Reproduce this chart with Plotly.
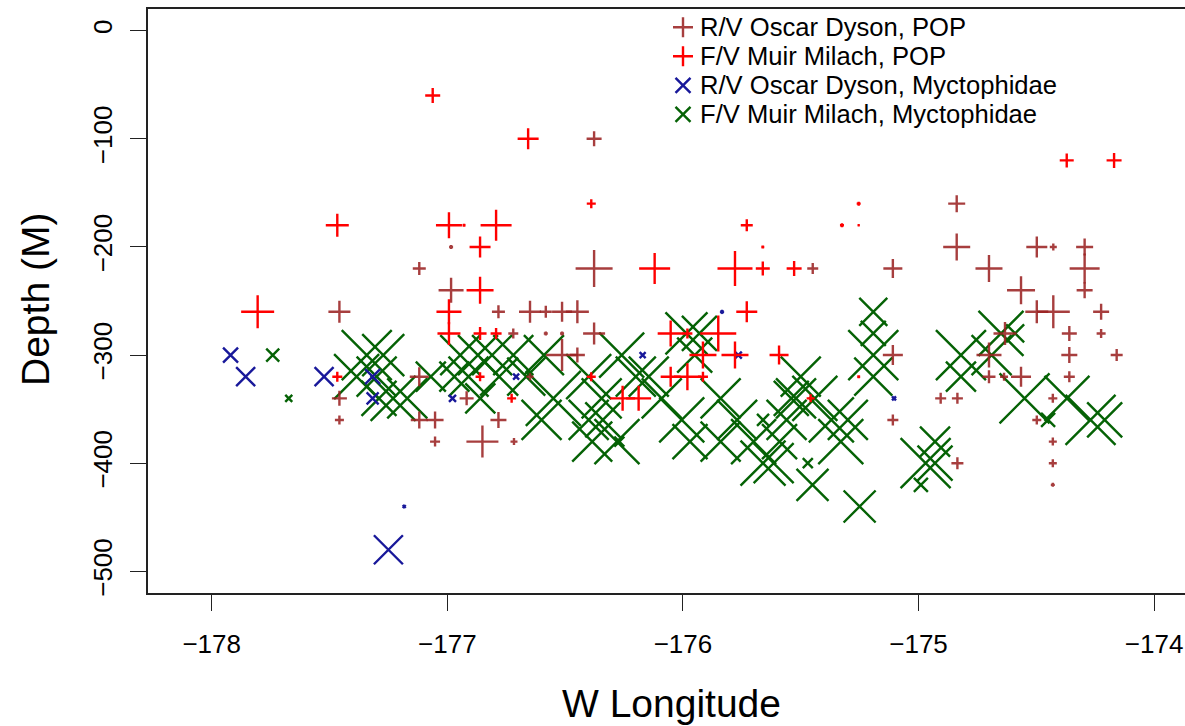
import plotly.graph_objects as go

# ---------------- data ----------------
x_ticks = [-178, -177, -176, -175, -174]
y_ticks = [0, -100, -200, -300, -400, -500]

legend_labels = ["R/V Oscar Dyson, POP", "F/V Muir Milach, POP",
                 "R/V Oscar Dyson, Myctophidae", "F/V Muir Milach, Myctophidae"]

# R/V Oscar Dyson, POP
pop_dyson_lon = [-177.119, -176.984, -176.984, -176.377, -176.377, -174.838, -174.838, -174.498,
                 -174.428, -174.295, -175.449, -175.109, -174.701, -174.295, -174.565, -174.295,
                 -174.498, -174.428, -174.225, -174.360, -174.225, -174.633, -174.701, -174.360,
                 -174.159, -175.109, -174.701, -174.637, -174.565, -174.360, -174.906, -174.835,
                 -174.430, -175.109, -174.498, -174.430, -174.835, -174.430, -174.430, -177.458,
                 -177.458, -177.458, -177.119, -177.119, -177.052, -177.052, -176.918, -176.851,
                 -176.783, -176.649, -176.582, -176.513, -176.448, -176.720, -176.582, -176.513,
                 -176.377, -176.513, -176.448, -176.649, -176.783, -176.717]
pop_dyson_depth = [-220, -200, -240, -100, -220, -160, -200, -200,
                   -200, -200, -220, -220, -220, -220, -240, -240,
                   -260, -260, -260, -280, -280, -280, -300, -300,
                   -300, -300, -320, -320, -320, -320, -340, -340,
                   -340, -360, -360, -380, -400, -400, -420, -260,
                   -340, -360, -320, -360, -360, -380, -340, -380,
                   -260, -260, -260, -260, -260, -280, -280, -280,
                   -280, -300, -300, -320, -360, -380]
pop_dyson_cpue = [13, 4, 25, 15, 37, 17, 27, 21,
                  7, 17, 11, 19, 27, 30, 28, 16,
                  23, 33, 16, 15, 9, 23, 25, 16,
                  12, 20, 13, 8, 20, 11, 11, 11,
                  9, 11, 9, 8, 12, 8, 4, 22,
                  15, 9, 19, 17, 17, 10, 14, 32,
                  13, 22, 12, 20, 23, 10, 4, 4,
                  22, 32, 15, 7, 16, 7]

# F/V Muir Milach, POP
pop_milach_lon = [-177.062, -177.467, -176.993, -176.929, -176.793, -176.861, -176.861, -176.657,
                  -176.389, -176.120, -175.779, -175.661, -175.528, -175.729, -175.661, -174.371,
                  -174.170, -175.254, -175.325, -175.254, -175.592, -175.254, -175.458, -177.805,
                  -176.993, -176.993, -176.861, -176.793, -177.467, -176.861, -176.389, -176.727,
                  -176.256, -176.188, -176.052, -175.981, -175.850, -175.729, -175.915, -175.779,
                  -176.052, -175.981, -175.915]
pop_milach_depth = [-60, -180, -180, -180, -180, -200, -240, -100,
                    -160, -220, -220, -220, -220, -180, -200, -120,
                    -120, -160, -180, -180, -300, -320, -340, -260,
                    -260, -280, -280, -280, -320, -320, -320, -340,
                    -340, -340, -280, -280, -280, -260, -300, -300,
                    -320, -320, -320]
pop_milach_cpue = [15, 23, 26, 3, 31, 21, 27, 21,
                   9, 31, 35, 14, 15, 12, 3, 14,
                   15, 4, 4, 2, 19, 3, 8, 33,
                   25, 23, 13, 11, 10, 9, 9, 9,
                   25, 25, 26, 10, 36, 21, 27, 27,
                   20, 27, 10]

# R/V Oscar Dyson, Myctophidae
myct_dyson_lon = [-177.920, -177.856, -177.523, -177.317, -177.317, -177.250, -177.183,
                  -176.978, -176.708, -176.171, -175.834, -175.765, -175.104]
myct_dyson_depth = [-300, -320, -320, -320, -340, -480, -440,
                    -340, -320, -300, -260, -300, -340]
myct_dyson_cpue = [15, 19, 19, 15, 12, 29, 3,
                   7, 6, 6, 3, 7, 4]

# F/V Muir Milach, Myctophidae
myct_milach_lon = [-177.741, -177.673, -177.342, -177.272, -177.300, -177.385, -177.230, -177.170,
                   -177.290, -177.070, -176.945, -176.870, -176.910, -176.810, -176.780, -176.720,
                   -176.665, -176.970, -176.590, -176.550, -176.400, -176.345, -176.400, -176.340,
                   -176.385, -176.280, -176.270, -176.260, -176.200, -176.145, -176.090, -176.005,
                   -175.985, -175.930, -175.950, -175.840, -175.770, -175.840, -175.700, -175.615,
                   -175.560, -175.520, -175.660, -175.660, -175.500, -175.440, -175.540, -175.370,
                   -175.300, -175.330, -175.590, -175.450, -175.250, -175.470, -175.192, -175.192,
                   -175.192, -175.192, -174.970, -174.930, -174.930, -174.990, -174.820, -174.820,
                   -174.690, -174.650, -174.590, -174.550, -174.450, -174.370, -174.270, -174.210,
                   -175.970, -176.600, -176.860]
myct_milach_depth = [-300, -340, -300, -300, -320, -320, -340, -340,
                     -340, -320, -300, -300, -320, -300, -320, -300,
                     -320, -320, -300, -340, -320, -340, -360, -360,
                     -380, -380, -380, -300, -320, -320, -340, -360,
                     -280, -280, -300, -340, -360, -380, -380, -400,
                     -360, -340, -400, -360, -320, -340, -340, -360,
                     -360, -380, -380, -420, -440, -400, -260, -280,
                     -300, -320, -400, -380, -400, -420, -300, -320,
                     -300, -280, -280, -340, -360, -340, -360, -360,
                     -380, -360, -340]
myct_milach_cpue = [13, 7, 50, 42, 40, 45, 45, 40,
                    35, 30, 40, 40, 40, 40, 38, 40,
                    38, 30, 40, 55, 45, 40, 40, 35,
                    40, 45, 10, 45, 40, 40, 40, 45,
                    42, 35, 35, 40, 40, 40, 45, 40,
                    40, 40, 45, 12, 40, 45, 35, 45,
                    40, 45, 35, 32, 32, 10, 28, 25,
                    50, 38, 50, 30, 35, 14, 50, 30,
                    40, 45, 18, 50, 14, 45, 50, 35,
                    35, 40, 30]

# ---------------- styling ----------------
FONT = "Liberation Sans, Arial, Helvetica, sans-serif"
C_DYSON_POP = "rgba(155,35,35,0.88)"
C_MILACH_POP = "#ff0000"
C_DYSON_MYCT = "#18189a"
C_MILACH_MYCT = "#056205"
LW = 2.4
CROSS_K = 1 / 1.4   # cross-thin arms span 1.4 * size
X_K = 1.0

fig = go.Figure()


def add_series(lon, dep, cpue, symbol, color, k):
    fig.add_trace(go.Scatter(
        x=lon, y=dep, mode="markers", showlegend=False, hoverinfo="skip",
        marker=dict(symbol=symbol, size=[c * k for c in cpue], color=color, opacity=1,
                    line=dict(color=color, width=LW))))


add_series(myct_milach_lon, myct_milach_depth, myct_milach_cpue, "x-thin", C_MILACH_MYCT, X_K)
add_series(myct_dyson_lon, myct_dyson_depth, myct_dyson_cpue, "x-thin", C_DYSON_MYCT, X_K)
add_series(pop_dyson_lon, pop_dyson_depth, pop_dyson_cpue, "cross-thin", C_DYSON_POP, CROSS_K)
add_series(pop_milach_lon, pop_milach_depth, pop_milach_cpue, "cross-thin", C_MILACH_POP, CROSS_K)

# ---------------- legend (drawn on an overlay axis) ----------------
W, H = 1185, 726
ML, MR, MT, MB = 148, 0, 9, 133
PW, PH = W - ML - MR, H - MT - MB
leg_syms = ["cross-thin", "cross-thin", "x-thin", "x-thin"]
leg_cols = [C_DYSON_POP, C_MILACH_POP, C_DYSON_MYCT, C_MILACH_MYCT]
leg_sizes = [20 / 1.4, 20 / 1.4, 15, 15]
ROW0, ROWGAP = 27.3, 29.0
row_y = [1 - (ROW0 + ROWGAP * i - MT) / PH for i in range(4)]
key_x = (683 - ML) / PW
text_x = (699 - ML) / PW
for i in range(4):
    fig.add_trace(go.Scatter(
        x=[key_x], y=[row_y[i]], xaxis="x2", yaxis="y2", mode="markers",
        showlegend=False, hoverinfo="skip",
        marker=dict(symbol=leg_syms[i], size=leg_sizes[i], color=leg_cols[i], opacity=1,
                    line=dict(color=leg_cols[i], width=LW))))

annotations = []
for i, lab in enumerate(legend_labels):
    annotations.append(dict(text=lab, x=text_x, y=row_y[i], xref="paper", yref="paper",
                            xanchor="left", yanchor="middle", showarrow=False,
                            borderpad=0,
                            font=dict(family=FONT, size=25.6, color="black")))
annotations.append(dict(text="W Longitude", x=(671 - ML) / PW, y=(PH + MT - 703) / PH,
                        xref="paper", yref="paper", xanchor="center", yanchor="middle",
                        showarrow=False, font=dict(family=FONT, size=39, color="black")))
annotations.append(dict(text="Depth (M)", x=(35 - ML) / PW, y=(PH + MT - 300) / PH,
                        xref="paper", yref="paper", xanchor="center", yanchor="middle",
                        textangle=-90, showarrow=False,
                        font=dict(family=FONT, size=39, color="black")))

axis_common = dict(ticks="outside", ticklen=16, tickwidth=1.4, tickcolor="#222",
                   showline=True, linecolor="#222", linewidth=1.6, showgrid=False,
                   zeroline=False, tickfont=dict(family=FONT, size=26, color="black"))

fig.update_layout(
    width=W, height=H, margin=dict(l=ML, r=MR, t=MT, b=MB, autoexpand=False),
    paper_bgcolor="white", plot_bgcolor="white", showlegend=False,
    annotations=annotations,
    xaxis=dict(range=[-178.2704, -173.869], tickvals=x_ticks, mirror=True,
               ticklabelstandoff=11, **axis_common),
    yaxis=dict(range=[-520, 20], tickvals=y_ticks, tickangle=-90,
               ticklabelstandoff=8, **axis_common),
    xaxis2=dict(overlaying="x", range=[0, 1], visible=False),
    yaxis2=dict(overlaying="y", range=[0, 1], visible=False),
)

fig.write_html("out.html")
